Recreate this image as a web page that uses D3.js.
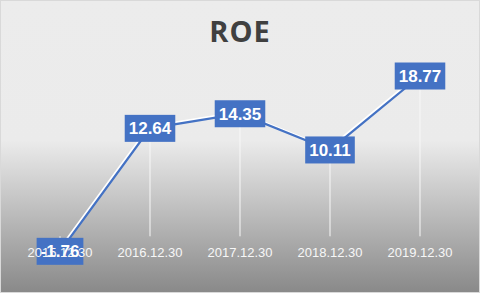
<!DOCTYPE html>
<html>
<head>
<meta charset="utf-8">
<script src="https://cdn.jsdelivr.net/npm/d3@7"></script>
<style>
  html, body { margin: 0; padding: 0; background: #fff; }
  svg { display: block; }
</style>
</head>
<body>
<div id="chart"></div>
<script>
// data
const categories = ['2015.12.30', '2016.12.30', '2017.12.30', '2018.12.30', '2019.12.30'];
const roeValues = [-1.76, 12.64, 14.35, 10.11, 18.77];
const chartTitle = 'ROE';

const width = 480;
const height = 293;
const blue = '#4472C4';

const svg = d3.select('#chart')
  .append('svg')
  .attr('width', width)
  .attr('height', height);

// background gradient, flat light gray on top fading to darker gray at the bottom
const defs = svg.append('defs');
const grad = defs.append('linearGradient')
  .attr('id', 'bg')
  .attr('x1', 0).attr('y1', 0)
  .attr('x2', 0).attr('y2', 1);
grad.append('stop').attr('offset', '0%').attr('stop-color', '#ECECEC');
grad.append('stop').attr('offset', '48%').attr('stop-color', '#EBEBEB');
grad.append('stop').attr('offset', '100%').attr('stop-color', '#898989');

svg.append('rect')
  .attr('x', 0.5).attr('y', 0.5)
  .attr('width', width - 1).attr('height', height - 1)
  .attr('fill', 'url(#bg)')
  .attr('stroke', '#D9D9D9');

// scales
const xScale = d3.scaleBand()
  .domain(categories)
  .range([15, 465]);

const yScale = d3.scaleLinear()
  .domain([-5, 20])
  .range([279, 65.5]);

const cx = d => xScale(d) + xScale.bandwidth() / 2;
const points = categories.map((c, i) => ({ cat: c, value: roeValues[i] }));

// drop lines from each point to the zero line
svg.append('g')
  .selectAll('line')
  .data(points)
  .enter()
  .append('line')
  .attr('x1', d => cx(d.cat))
  .attr('x2', d => cx(d.cat))
  .attr('y1', d => yScale(d.value))
  .attr('y2', yScale(0))
  .attr('stroke', '#F8F8F8')
  .attr('stroke-width', 1);

// line with a white shadow
const line = d3.line()
  .x(d => cx(d.cat))
  .y(d => yScale(d.value));

svg.append('path')
  .datum(points)
  .attr('d', line)
  .attr('transform', 'translate(-1,-1.5)')
  .attr('fill', 'none')
  .attr('stroke', '#FFFFFF')
  .attr('stroke-width', 2.25);

svg.append('path')
  .datum(points)
  .attr('d', line)
  .attr('fill', 'none')
  .attr('stroke', blue)
  .attr('stroke-width', 2.25);

// data labels in blue boxes
const labels = svg.append('g')
  .selectAll('g')
  .data(points)
  .enter()
  .append('g')
  .attr('transform', d => `translate(${cx(d.cat)},${yScale(d.value)})`);

labels.append('rect').attr('fill', blue);

const labelText = labels.append('text')
  .attr('text-anchor', 'middle')
  .attr('dy', '0.36em')
  .attr('fill', '#FFFFFF')
  .style('font-family', '"Liberation Sans", Arial, sans-serif')
  .style('font-weight', 'bold')
  .style('font-size', '17px')
  .text(d => d.value.toFixed(2));

labelText.each(function () {
  const w = this.getComputedTextLength() + 8;
  d3.select(this.previousSibling)
    .attr('x', -w / 2)
    .attr('y', -13.5)
    .attr('width', w)
    .attr('height', 27);
});

// category axis labels (no axis line visible), drawn over the data labels like the original
const xAxis = d3.axisBottom(xScale).tickSize(0).tickPadding(0);
const xAxisGroup = svg.append('g')
  .attr('transform', `translate(0,${yScale(0) + 11})`)
  .call(xAxis);
xAxisGroup.select('.domain').remove();
xAxisGroup.selectAll('text')
  .attr('fill', '#F7F7F7')
  .style('font-family', '"Liberation Sans", Arial, sans-serif')
  .style('font-size', '13px');

// title
svg.append('text')
  .attr('x', width / 2)
  .attr('y', 42)
  .attr('text-anchor', 'middle')
  .attr('fill', '#404040')
  .style('font-family', '"Open Sans", sans-serif')
  .style('font-weight', 'bold')
  .style('font-size', '29px')
  .style('letter-spacing', '1px')
  .text(chartTitle);
</script>
</body>
</html>
